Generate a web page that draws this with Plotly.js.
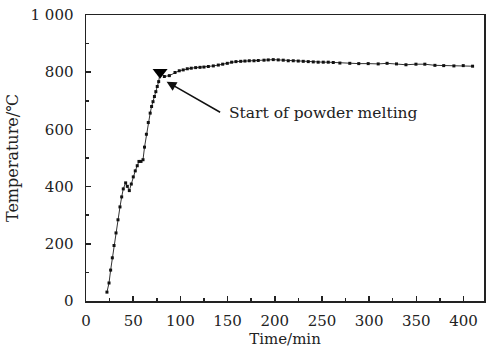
<!DOCTYPE html>
<html>
<head>
<meta charset="utf-8">
<script src="https://cdn.plot.ly/plotly-3.0.1.min.js"></script>
<style>html,body{margin:0;padding:0;background:#fff;}#chart{width:487px;height:357px;}</style>
</head>
<body>
<div id="chart"></div>
<script>
const timeMin = [22.2, 24.4, 26.1, 27.9, 29.7, 31.8, 33.9, 36.0, 37.8, 39.5, 42.0, 43.8, 45.9, 48.0, 50.1, 52.2, 54.3, 56.1, 58.3, 60.4,
  62.0, 64.0, 66.0, 68.0, 69.5, 71.0, 72.5, 74.0, 75.5, 77.0, 78.5, 83.0,
  88.3, 94.3, 98.8, 103.0, 107.3, 111.5, 116.2, 120.8, 125.0, 129.6, 134.9, 140.2, 144.8, 149.7, 154.3, 158.9, 163.9, 168.4, 173.0, 178.0,
  182.5, 188.6, 193.1, 198.4, 203.7, 209.0, 214.3, 219.6, 224.9, 230.2, 235.5, 240.8, 246.0, 251.4, 256.7, 262.0,
  269.0, 279.5, 289.0, 299.0, 309.6, 319.0, 329.0, 339.0, 349.6, 359.0, 369.7, 379.0, 389.8, 399.7, 409.6];
const tempC = [31, 63, 108, 151, 194, 238, 284, 329, 364, 392, 413, 401, 386, 409, 434, 455, 473, 488, 488, 494,
  538, 583, 624, 657, 680, 697, 715, 732, 750, 767, 800, 785,
  788, 799, 805, 808, 812, 814, 816, 817, 818, 820, 822, 825, 828, 831, 835, 837, 838, 839, 840, 840,
  841, 842, 843, 844, 843, 842, 840, 840, 839, 838, 837, 836, 835, 835, 835, 834,
  832, 831, 830, 830, 829, 831, 829, 826, 828, 828, 824, 823, 822, 823, 821];
const meltTime = [78.5];
const meltTemp = [800];
const yTickVals = [0, 200, 400, 600, 800, 1000];
const yTickText = ['0', '200', '400', '600', '800', '1 000'];
const xTickVals = [0, 50, 100, 150, 200, 250, 300, 350, 400];
const xTickText = ['0', '50', '100', '150', '200', '250', '300', '350', '400'];
const annotationText = 'Start of powder melting';

const font = 'DejaVu Serif, Liberation Serif, serif';
const traces = [
  {x: timeMin, y: tempC, type: 'scatter', mode: 'lines+markers',
   line: {color: '#333', width: 1},
   marker: {symbol: 'square', size: 3, color: '#111'}, showlegend: false, hoverinfo: 'skip'},
  {x: meltTime, y: meltTemp, type: 'scatter', mode: 'markers',
   marker: {symbol: 'triangle-down', size: 13, color: '#000'}, showlegend: false, hoverinfo: 'skip'}
];
const axisCommon = {
  showline: true, mirror: true, linecolor: '#222', linewidth: 1.5,
  showgrid: false, zeroline: false, ticks: 'inside', tickcolor: '#222', tickwidth: 1.5, ticklen: 5,
  tickfont: {family: font, size: 15, color: '#222'}
};
const layout = {
  width: 487, height: 357,
  margin: {l: 86, r: 3, t: 15, b: 56},
  paper_bgcolor: '#fff', plot_bgcolor: '#fff',
  xaxis: Object.assign({}, axisCommon, {
    range: [0, 421.7], tickvals: xTickVals, ticktext: xTickText,
    minor: {dtick: 25, tick0: 0, ticks: 'inside', ticklen: 3, tickcolor: '#222', tickwidth: 1.5, showgrid: false},
    ticklabelstandoff: 5,
    title: {text: 'Time/min', font: {family: font, size: 15, color: '#222'}, standoff: 5}
  }),
  yaxis: Object.assign({}, axisCommon, {
    range: [0, 1000], tickvals: yTickVals, ticktext: yTickText,
    minor: {dtick: 100, tick0: 0, ticks: 'inside', ticklen: 3, tickcolor: '#222', tickwidth: 1.5, showgrid: false},
    ticklabelstandoff: 8,
    title: {text: 'Temperature/℃', font: {family: font, size: 16, color: '#222'}, standoff: 8}
  }),
  annotations: [
    {x: 85.4, y: 767, xref: 'x', yref: 'y', ax: 143.7, ay: 657, axref: 'x', ayref: 'y',
     text: '', showarrow: true, arrowhead: 2, arrowsize: 1.3, arrowwidth: 1.5, arrowcolor: '#111'},
    {x: 149.5, y: 657, xref: 'x', yref: 'y', xanchor: 'left', yanchor: 'middle',
     text: annotationText, showarrow: false, font: {family: font, size: 15.5, color: '#222'}}
  ]
};
Plotly.newPlot('chart', traces, layout, {staticPlot: true, displayModeBar: false});
</script>
</body>
</html>
